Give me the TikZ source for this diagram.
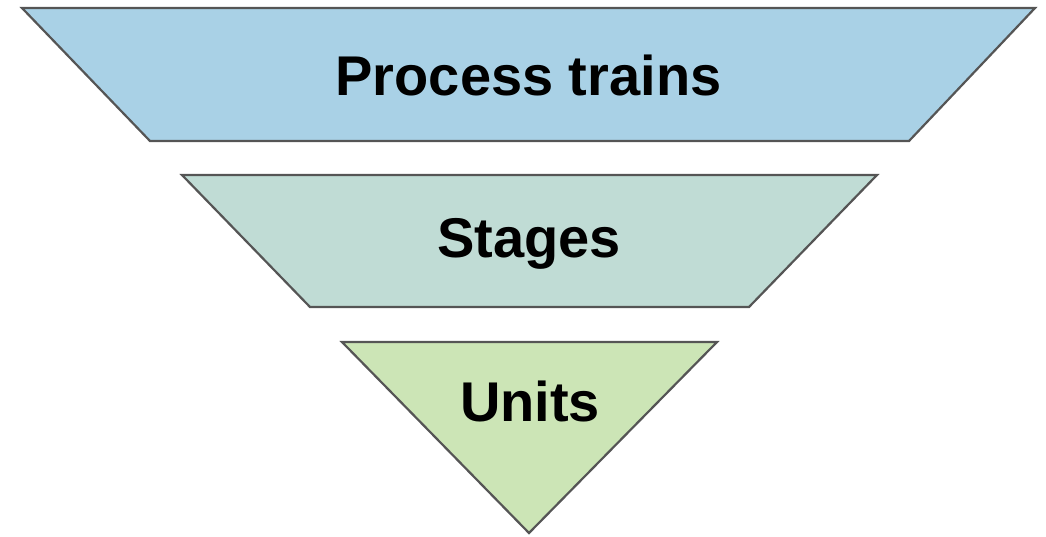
\documentclass[tikz,border=0pt]{standalone}
\usepackage{fontspec}
\setmainfont{Liberation Sans}
\definecolor{cblue}{HTML}{A9D1E6}
\definecolor{cteal}{HTML}{C0DCD5}
\definecolor{cgreen}{HTML}{CCE5B6}
\definecolor{cedge}{HTML}{555555}
\begin{document}
\begin{tikzpicture}[x=1pt,y=-1pt,
  layer/.style={draw=cedge,line width=2.2pt,line join=miter},
  lbl/.style={anchor=base,inner sep=0pt,font=\fontsize{56}{67}\selectfont\bfseries,text=black}]
\useasboundingbox (0,0) rectangle (1046,536);
\draw[layer,fill=cblue] (22,8) -- (1035,8) -- (909,141) -- (150,141) -- cycle;
\draw[layer,fill=cteal] (182,175) -- (877,175) -- (749,307) -- (310,307) -- cycle;
\draw[layer,fill=cgreen] (342,342) -- (717,342) -- (529,533) -- cycle;
\node[lbl] (p) at (528.5,95) {Process trains};
\node[lbl] (s) at (529,257) {Stages};
\node[lbl] (u) at (530,421) {Units};
\end{tikzpicture}
\end{document}
